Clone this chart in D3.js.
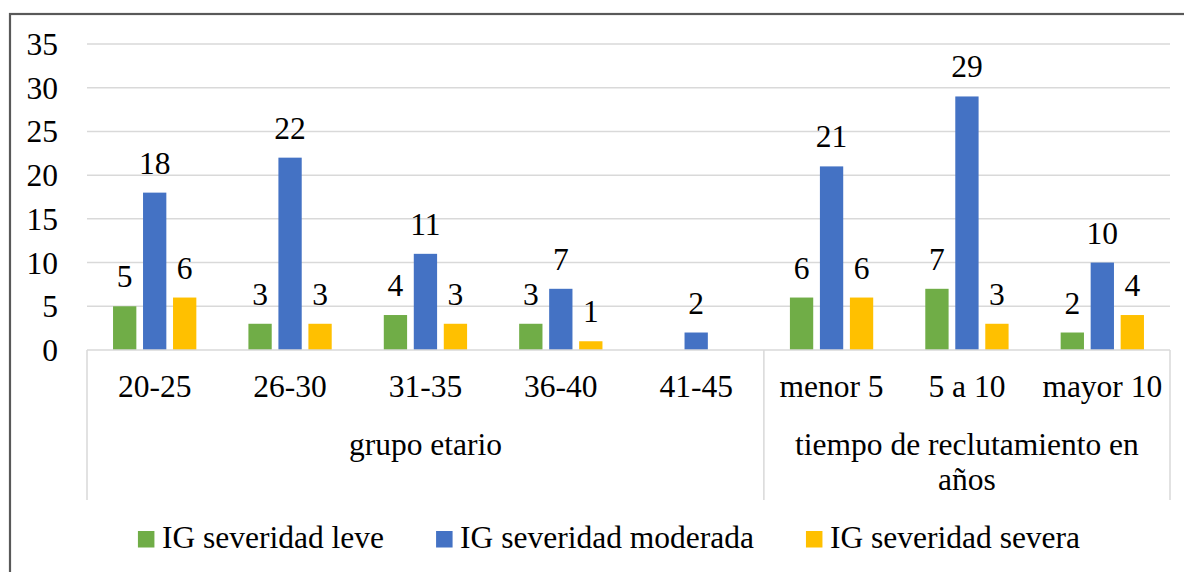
<!DOCTYPE html>
<html>
<head>
<meta charset="utf-8">
<script src="https://cdn.jsdelivr.net/npm/d3@7"></script>
<style>
  body { margin: 0; background: #fff; }
</style>
</head>
<body>
<svg id="chart" width="1184" height="572" font-family="'Liberation Serif', Tinos, 'Times New Roman', 'DejaVu Serif', serif"></svg>
<script>
// chart data
let categories = ["20-25", "26-30", "31-35", "36-40", "41-45", "menor 5", "5 a 10", "mayor 10"];
let groups = [
  {lines: ["grupo etario"], from: 0, to: 4},
  {lines: ["tiempo de reclutamiento en", "años"], from: 5, to: 7}
];
let seriesNames = ["IG severidad leve", "IG severidad moderada", "IG severidad severa"];
let leve = [5, 3, 4, 3, null, 6, 7, 2];
let moderada = [18, 22, 11, 7, 2, 21, 29, 10];
let severa = [6, 3, 3, 1, null, 6, 3, 4];
let yTicks = [0, 5, 10, 15, 20, 25, 30, 35];

let colors = ["#70AD47", "#4472C4", "#FFC000"];
let allSeries = [leve, moderada, severa];

let svg = d3.select("#chart");
const fontSize = 31.5;

// outer frame
svg.append("rect").
attr("x", 10).attr("y", 14).
attr("width", 1200).attr("height", 600).
attr("fill", "none").
attr("stroke", "#595959").
attr("stroke-width", 2.2);

let plot = {left: 87, right: 1170, top: 44, bottom: 350};

let x = d3.scaleBand().
domain(categories).
range([plot.left, plot.right]);

let y = d3.scaleLinear().
domain([0, 35]).
range([plot.bottom, plot.top]);

let xInner = d3.scaleBand().
domain(d3.range(3)).
range([-41.65, 41.65]).
paddingInner(0.223);

// gridlines
svg.append("g").
selectAll("line").
data(yTicks.filter(d => d > 0)).
enter().append("line").
attr("x1", plot.left).attr("x2", plot.right).
attr("y1", d => y(d)).attr("y2", d => y(d)).
attr("stroke", "#d9d9d9").
attr("stroke-width", 1.5);

// y labels
svg.append("g").
selectAll("text").
data(yTicks).
enter().append("text").
attr("x", 58).
attr("y", d => y(d) + 11).
attr("text-anchor", "end").
attr("font-size", fontSize).
text(d => d);

// bars
let rows = categories.map((c, i) => ({cat: c, vals: allSeries.map(s => s[i])}));

let cell = svg.append("g").
selectAll("g").
data(rows).
enter().append("g").
attr("transform", d => "translate(" + (x(d.cat) + x.bandwidth() / 2) + ",0)");

let bar = cell.selectAll("g").
data(d => d.vals.map((v, k) => ({v: v, k: k})).filter(e => e.v != null)).
enter().append("g");

bar.append("rect").
attr("x", d => xInner(d.k)).
attr("width", xInner.bandwidth()).
attr("y", d => y(d.v)).
attr("height", d => y(0) - y(d.v)).
attr("fill", d => colors[d.k]);

bar.append("text").
attr("x", d => xInner(d.k) + xInner.bandwidth() / 2).
attr("y", d => y(d.v) - 19).
attr("text-anchor", "middle").
attr("font-size", fontSize).
text(d => d.v);

// x axis line
svg.append("line").
attr("x1", plot.left).attr("x2", plot.right).
attr("y1", plot.bottom).attr("y2", plot.bottom).
attr("stroke", "#d9d9d9").
attr("stroke-width", 1.5);

// category labels
svg.append("g").
selectAll("text").
data(categories).
enter().append("text").
attr("x", d => x(d) + x.bandwidth() / 2).
attr("y", 397).
attr("text-anchor", "middle").
attr("font-size", fontSize).
text(d => d);

// group separators
let bounds = [0].concat(groups.map(g => g.to + 1));
svg.append("g").
selectAll("line").
data(bounds).
enter().append("line").
attr("x1", i => plot.left + i * x.step()).
attr("x2", i => plot.left + i * x.step()).
attr("y1", plot.bottom).attr("y2", 500).
attr("stroke", "#d9d9d9").
attr("stroke-width", 1.5);

// group labels
let groupText = svg.append("g").
selectAll("text").
data(groups).
enter().append("text").
attr("text-anchor", "middle").
attr("font-size", fontSize);

groupText.selectAll("tspan").
data(g => g.lines.map(l => ({l: l, g: g}))).
enter().append("tspan").
attr("x", d => (x(categories[d.g.from]) + x(categories[d.g.to]) + x.bandwidth()) / 2).
attr("y", (d, i) => 455 + i * 35).
text(d => d.l);

// legend
let legend = svg.append("g");
let legendItem = legend.selectAll("g").
data(seriesNames).
enter().append("g");

legendItem.append("rect").
attr("width", 16.5).attr("height", 16.5).
attr("y", 531).
attr("fill", (d, i) => colors[i]);

legendItem.append("text").
attr("x", 24).
attr("y", 548).
attr("font-size", fontSize).
text(d => d);

let offsets = [];
let total = 0;
legendItem.each(function () {
  let w = 24 + d3.select(this).select("text").node().getComputedTextLength();
  offsets.push(total);
  total += w + 52;
});
total -= 52;
let legendStart = 609 - total / 2;
legendItem.attr("transform", (d, i) => "translate(" + (legendStart + offsets[i]) + ",0)");
</script>
</body>
</html>
